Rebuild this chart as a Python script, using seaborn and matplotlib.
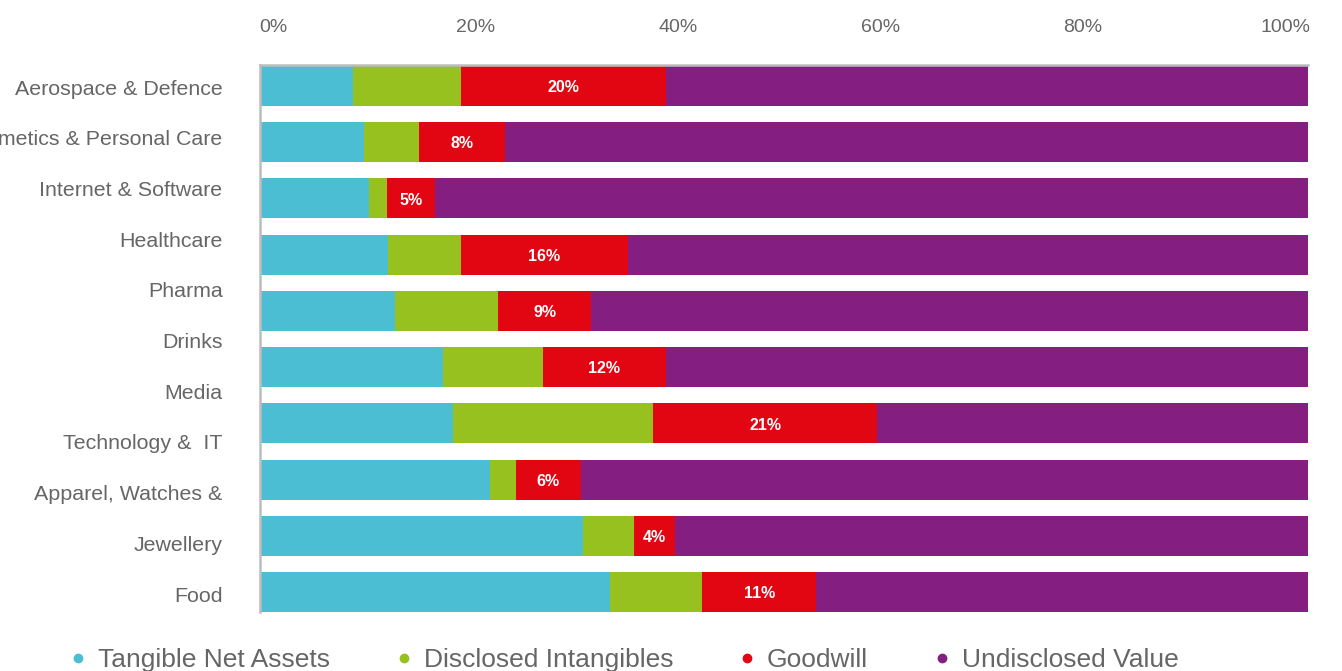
import numpy as np
import pandas as pd
import matplotlib
matplotlib.use("Agg")
import matplotlib.pyplot as plt
from matplotlib.lines import Line2D
import seaborn as sns

# data (share of value, %)
sectors = ["Aerospace & Defence", "Cosmetics & Personal Care", "Internet & Software",
           "Healthcare", "Pharma", "Drinks", "Media", "Technology &  IT",
           "Apparel, Watches & Jewellery", "Food"]
tangible = [8.9, 9.9, 10.4, 12.2, 12.9, 17.5, 18.4, 21.9, 30.8, 33.4]
disclosed = [10.3, 5.3, 1.7, 7.0, 9.8, 9.5, 19.1, 2.5, 4.9, 8.8]
goodwill = [19.5, 8.2, 4.6, 15.9, 8.9, 11.7, 21.4, 6.2, 3.9, 10.9]
undisclosed = [61.3, 76.6, 83.3, 64.9, 68.4, 61.3, 41.1, 69.4, 60.4, 46.9]

row_labels = ["Aerospace & Defence", "Cosmetics & Personal Care", "Internet & Software",
              "Healthcare", "Pharma", "Drinks", "Media", "Technology &  IT",
              "Apparel, Watches &", "Jewellery", "Food"]
tick_vals = [0, 20, 40, 60, 80, 100]
tick_text = ["0%", "20%", "40%", "60%", "80%", "100%"]

series_names = ["Tangible Net Assets", "Disclosed Intangibles", "Goodwill", "Undisclosed Value"]
colors = ["#4BBED3", "#97C11F", "#E20613", "#841F81"]
grey_text = "#666666"
spine_col = "#BDBDBD"

sns.set_theme(style="white")
plt.rcParams['font.family'] = ['Liberation Sans', 'DejaVu Sans']

df = pd.DataFrame({"sector": sectors, "tangible": tangible, "disclosed": disclosed,
                   "goodwill": goodwill, "undisclosed": undisclosed})
parts = ["tangible", "disclosed", "goodwill", "undisclosed"]
cum = df[parts].cumsum(axis=1)

fig = plt.figure(figsize=(13.42, 6.71), dpi=100)
ax = fig.add_axes([260/1342, 1-612/671, (1308-260)/1342, (612-65)/671])

# stacked bars: draw the longest cumulative first
for col, c in zip(parts[::-1], colors[::-1]):
    sns.barplot(x=cum[col], y=df["sector"], orient="h", color=c, width=0.711,
                saturation=1, ax=ax, linewidth=0)

# goodwill labels
for i, (start, g) in enumerate(zip(cum["disclosed"], df["goodwill"])):
    ax.text(start + g/2, i + 0.03, f"{g:.0f}%", ha="center", va="center",
            color="white", fontsize=11.5, fontweight="bold")

ax.set_xlim(0, 100)
ax.set_ylim(9.356, -0.3735)
ax.set_xlabel("")
ax.set_ylabel("")
ax.set_xticks([])
ax.set_yticks([])
for s in ["right", "bottom"]:
    ax.spines[s].set_visible(False)
for s in ["top", "left"]:
    ax.spines[s].set_color(spine_col)
    ax.spines[s].set_linewidth(1.8)

# category labels on their own row scale
axy = ax.twinx()
axy.set_ylim(10.355, -0.434)
axy.set_yticks(range(len(row_labels)))
axy.set_yticklabels(row_labels)
axy.yaxis.tick_left()
axy.tick_params(axis="y", length=0, pad=27, labelsize=15.4, labelcolor=grey_text)
for s in axy.spines.values():
    s.set_visible(False)

# percent labels on top
axx = ax.twiny()
axx.set_xlim(-1.285, 102.27)
axx.set_xticks(tick_vals)
axx.set_xticklabels(tick_text)
axx.xaxis.tick_top()
axx.tick_params(axis="x", length=0, pad=21, labelsize=14, labelcolor=grey_text)
for s in axx.spines.values():
    s.set_visible(False)

handles = [Line2D([], [], marker="o", linestyle="", color=c, markersize=6) for c in colors]
fig.legend(handles, series_names, loc="center left", bbox_to_anchor=(73/1342, 1-660/671),
           ncol=4, frameon=False, handlelength=0.4, handletextpad=0.55,
           columnspacing=2.6, borderpad=0, borderaxespad=0, fontsize=19,
           labelcolor=grey_text)

fig.savefig("out.png", dpi=100)
